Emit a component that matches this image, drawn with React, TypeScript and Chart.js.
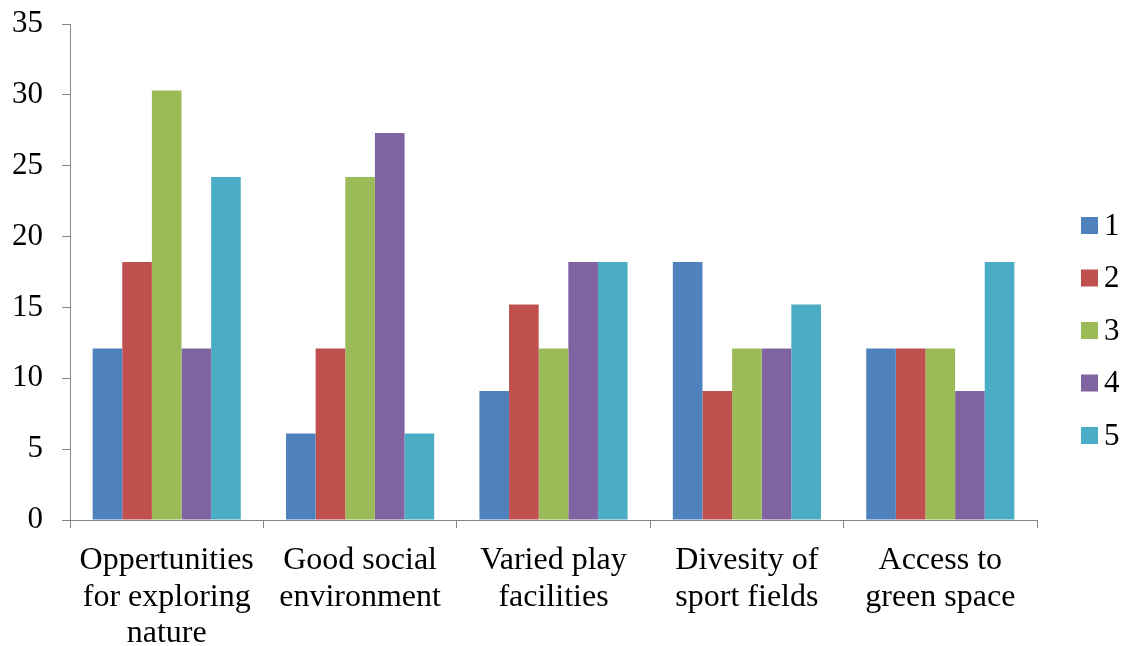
import React, { useEffect, useRef } from "react";
import { Chart, registerables } from "chart.js";

Chart.register(...registerables);

const categories: string[][] = [
  ["Oppertunities", "for exploring", "nature"],
  ["Good social", "environment"],
  ["Varied play", "facilities"],
  ["Divesity of", "sport fields"],
  ["Access to", "green space"],
];

const seriesNames = ["1", "2", "3", "4", "5"];
const seriesColors = ["#4F81BD", "#C0504D", "#9BBB59", "#8064A2", "#4BACC6"];

const series1 = [12.1, 6.1, 9.1, 18.2, 12.1];
const series2 = [18.2, 12.1, 15.2, 9.1, 12.1];
const series3 = [30.3, 24.2, 12.1, 12.1, 12.1];
const series4 = [12.1, 27.3, 18.2, 12.1, 9.1];
const series5 = [24.2, 6.1, 18.2, 15.2, 18.2];

const yMin = 0;
const yMax = 35;
const yStep = 5;

const FONT = '"Liberation Serif", "Times New Roman", serif';
const AXIS_GRAY = "#868686";

// Vertical legend drawn to the right of the plot area
const sideLegend = {
  id: "sideLegend",
  afterDraw(chart: Chart) {
    const { ctx, chartArea } = chart;
    const box = 17;
    const gap = 52.5;
    const startY = 217;
    const boxX = chartArea.right + 44;
    ctx.save();
    ctx.font = `31px ${FONT}`;
    ctx.textBaseline = "middle";
    ctx.textAlign = "left";
    chart.data.datasets.forEach((ds, i) => {
      const y = startY + i * gap;
      ctx.fillStyle = ds.backgroundColor as string;
      ctx.fillRect(boxX, y, box, box);
      ctx.fillStyle = "#000";
      ctx.fillText(String(ds.label), boxX + 23, y + box / 2 + 1);
    });
    ctx.restore();
  },
};

export default function App() {
  const canvasRef = useRef<HTMLCanvasElement | null>(null);

  useEffect(() => {
    if (!canvasRef.current) return;
    const values = [series1, series2, series3, series4, series5];
    const chart = new Chart(canvasRef.current, {
      type: "bar",
      data: {
        labels: categories,
        datasets: values.map((v, i) => ({
          label: seriesNames[i],
          data: v,
          backgroundColor: seriesColors[i],
          borderWidth: 0,
          categoryPercentage: 0.766,
          barPercentage: 1,
        })),
      },
      options: {
        responsive: false,
        animation: false,
        devicePixelRatio: 1,
        layout: { padding: { left: 0, right: 90, top: 24, bottom: 0 } },
        plugins: {
          legend: { display: false },
          tooltip: { enabled: false },
        },
        scales: {
          x: {
            offset: true,
            grid: {
              offset: true,
              drawOnChartArea: false,
              drawTicks: true,
              tickLength: 8,
              tickColor: AXIS_GRAY,
              tickWidth: 1,
            },
            border: { color: AXIS_GRAY, width: 1 },
            ticks: {
              color: "#000",
              font: { family: FONT, size: 32, lineHeight: 1.15 },
              padding: 14,
              maxRotation: 0,
              autoSkip: false,
            },
            afterFit(scale) {
              scale.height = 126;
              scale.paddingLeft = 0;
              scale.paddingRight = 0;
            },
          },
          y: {
            min: yMin,
            max: yMax,
            grid: {
              drawOnChartArea: false,
              drawTicks: true,
              tickLength: 8,
              tickColor: AXIS_GRAY,
              tickWidth: 1,
            },
            border: { color: AXIS_GRAY, width: 1 },
            ticks: {
              stepSize: yStep,
              color: "#000",
              font: { family: FONT, size: 31 },
              padding: 19,
            },
            afterFit(scale) {
              scale.width = 70;
              scale.paddingTop = 0;
              scale.paddingBottom = 0;
            },
          },
        },
      },
      plugins: [sideLegend],
    });
    return () => chart.destroy();
  }, []);

  return (
    <div style={{ position: "absolute", left: 0, top: 0, width: 1127, height: 646, background: "#fff" }}>
      <canvas ref={canvasRef} width={1127} height={646} />
    </div>
  );
}
